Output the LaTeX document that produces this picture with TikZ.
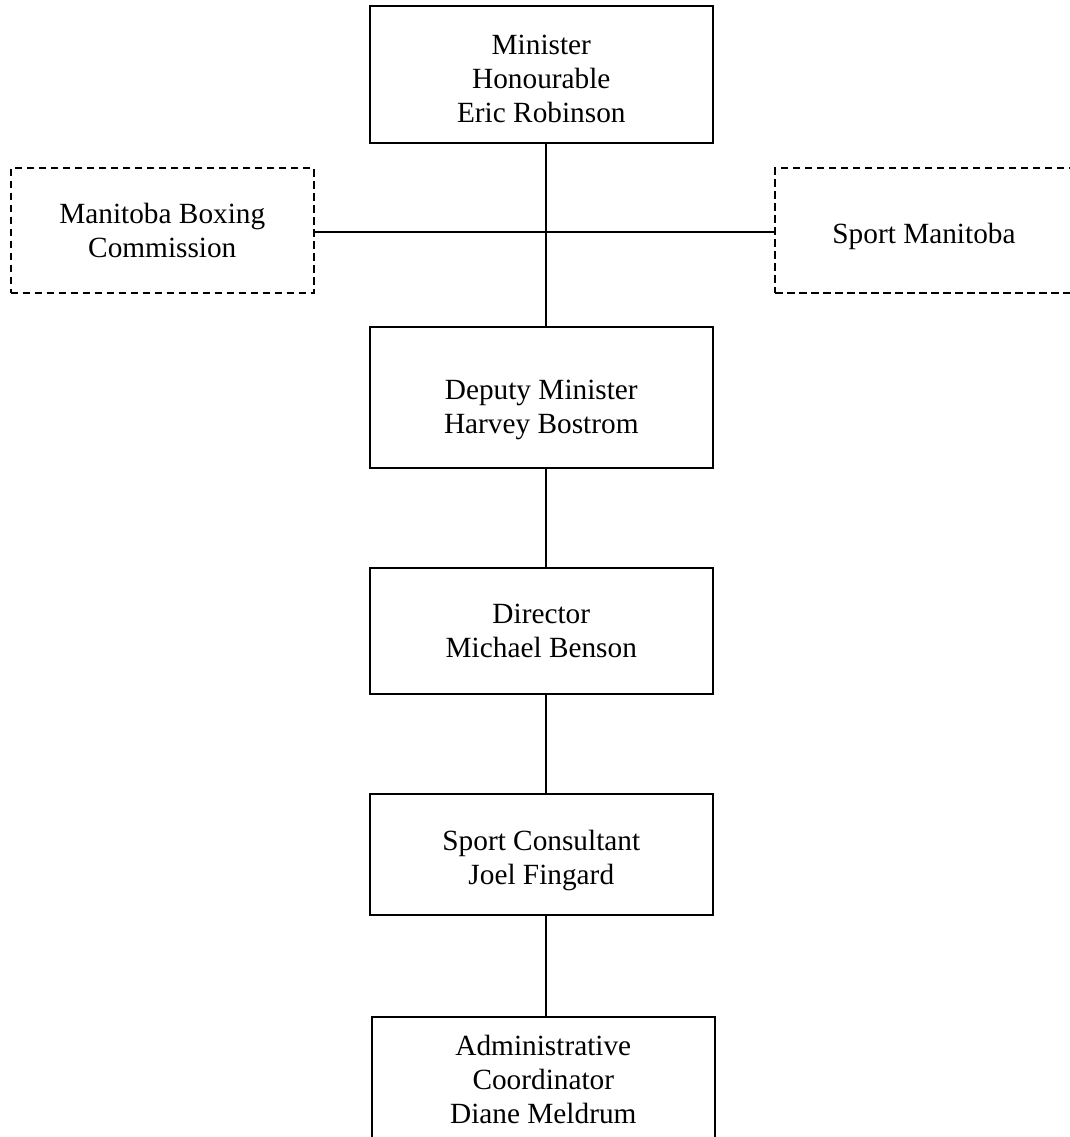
\documentclass[tikz,border=0pt]{standalone}
\usepackage{fontspec}
\setmainfont{Liberation Serif}
\begin{document}
\begin{tikzpicture}[x=1pt,y=-1pt,
  box/.style={draw=black,line width=1.8pt,inner sep=0pt},
  dbox/.style={box,dash pattern=on 7.5pt off 4.5pt},
  txt/.style={align=center,inner sep=0pt,font=\fontsize{29.3}{34}\selectfont},
  link/.style={draw=black,line width=1.8pt}]
\useasboundingbox (0,0) rectangle (1070,1137);
% boxes
\node[box,minimum width=342.7pt,minimum height=136.7pt] (min) at (541.3,74.3) {};
\node[dbox,minimum width=303.3pt,minimum height=125pt] (mbc) at (162.3,230.8) {};
\node[dbox,minimum width=298pt,minimum height=125pt] (spm) at (924,230.8) {};
\node[box,minimum width=342.7pt,minimum height=141pt] (dep) at (541.3,397.8) {};
\node[box,minimum width=342.7pt,minimum height=125.7pt] (dir) at (541.3,631.2) {};
\node[box,minimum width=342.7pt,minimum height=121.3pt] (con) at (541.3,854.7) {};
\node[box,minimum width=343.3pt,minimum height=142.7pt] (adm) at (543.3,1088.7) {};
% texts
\node[txt] (mint) at ([yshift=-4.7pt]min.center) {Minister\\Honourable\\Eric Robinson};
\node[txt] (mbct) at (mbc.center) {Manitoba Boxing\\Commission};
\node[txt] (spmt) at ([yshift=-5.7pt]spm.center) {Sport Manitoba};
\node[txt] (dept) at ([yshift=-11.7pt]dep.center) {Deputy Minister\\Harvey Bostrom};
\node[txt] (dirt) at (dir.center) {Director\\Michael Benson};
\node[txt] (cont) at ([yshift=-5.5pt]con.center) {Sport Consultant\\Joel Fingard};
\node[txt] (admt) at (543.3,1079.7) {Administrative\\Coordinator\\Diane Meldrum};
% connectors
\coordinate (spine) at (546,231.7);
\draw[link] (min.south -| spine) -- (dep.north -| spine);
\draw[link] (mbc.east |- spine) -- (spm.west |- spine);
\draw[link] (dep.south -| spine) -- (dir.north -| spine);
\draw[link] (dir.south -| spine) -- (con.north -| spine);
\draw[link] (con.south -| spine) -- (adm.north -| spine);
\end{tikzpicture}
\end{document}
